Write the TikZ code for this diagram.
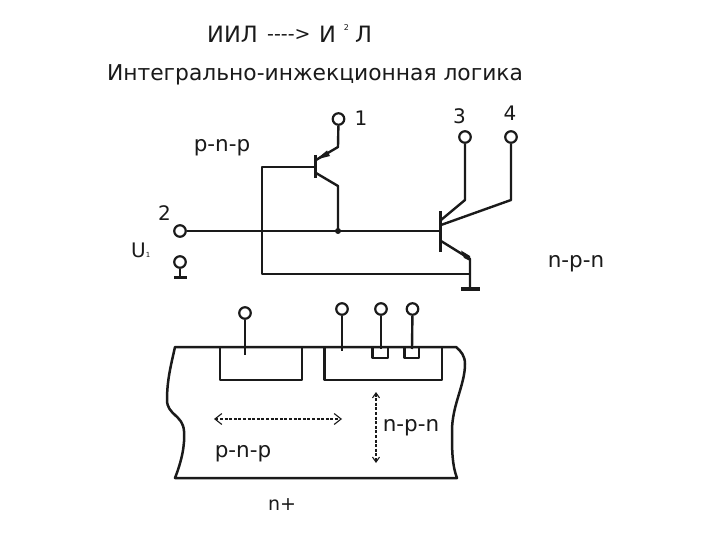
\documentclass[tikz,border=0pt]{standalone}
\usepackage{fontspec}
\setmainfont{DejaVu Sans}
\usetikzlibrary{arrows.meta}
\definecolor{ink}{HTML}{1A1A1A}
\tikzset{
  wire/.style={draw=ink,line width=2.4pt,line join=round},
  thin wire/.style={draw=ink,line width=2.1pt},
  bar/.style={draw=ink,line width=3pt},
  term/.style={circle,draw=ink,line width=2.2pt,fill=white,minimum size=11.5pt,inner sep=0pt},
  lab/.style={text=ink,inner sep=0pt,font=\fontsize{21.5}{24}\selectfont},
  num/.style={text=ink,inner sep=0pt,font=\fontsize{20}{22}\selectfont},
  dim/.style={draw=ink,line width=1.1pt,dash pattern=on 3pt off 1.6pt,{Straight Barb[length=7pt,width=11pt]}-{Straight Barb[length=7pt,width=11pt]}}
}
\begin{document}
\begin{tikzpicture}[x=1pt,y=-1pt]
\useasboundingbox (0,0) rectangle (720,540);
\fill[white] (0,0) rectangle (720,540);
% titles
\node[lab,anchor=west,font=\fontsize{22.5}{25}\selectfont] (t1) at (207,34) {ИИЛ};
\node[lab,anchor=west,font=\fontsize{19}{21}\selectfont] (t2) at (267,35) {{-}{-}{-}{-}>};
\node[lab,anchor=west,font=\fontsize{22.5}{25}\selectfont] (t3) at (319,34) {И};
\node[lab,font=\fontsize{8}{9}\selectfont] (t4) at (346.5,27.5) {2};
\node[lab,anchor=west,font=\fontsize{22.5}{25}\selectfont] (t5) at (355,34) {Л};
\node[lab,font=\fontsize{21.8}{24}\selectfont] (t6) at (315,74.5) {Интегрально-инжекционная логика};
% labels of the circuit
\node[lab] (l1) at (222,147.5) {p-n-p};
\node[num] (n1) at (361,118) {1};
\node[num] (n2) at (164.5,213) {2};
\node[num] (n3) at (459.5,116) {3};
\node[num] (n4) at (510,113) {4};
\node[lab,anchor=west,font=\fontsize{20}{22}\selectfont] (u) at (131,250) {U\raisebox{0pt}{\fontsize{7}{8}\selectfont 1}};
\node[lab] (l2) at (576,264) {n-p-n};
% terminals
\node[term] (T1) at (338.5,119) {};
\node[term] (T2) at (180,231) {};
\node[term] (T0) at (180,262) {};
\node[term] (T3) at (465,137) {};
\node[term] (T4) at (511,137) {};
% p-n-p transistor
\coordinate (pb1) at (315,155); \coordinate (pb2) at (315,178);
\coordinate (pb) at (315,167); \coordinate (pl) at (262,167);
\coordinate (pe) at (338,147); \coordinate (pei) at (316,160);
\coordinate (pci) at (316,173); \coordinate (pc) at (338,186);
\coordinate (J) at (338,231);
\draw[bar] (pb1) -- (pb2);
\draw[wire] (T1) -- (pe) -- (pei);
\fill[ink] (316,159.5) -- (327,150.5) -- (330,156) -- cycle;
\draw[wire] (pci) -- (pc) -- (J);
\fill[ink] (J) circle (3pt);
% n-p-n transistor
\coordinate (nb1) at (440.5,211); \coordinate (nb2) at (440.5,252);
\coordinate (nb) at (440.5,231);
\coordinate (c3) at (465,200); \coordinate (c3i) at (441,220);
\coordinate (c4) at (511,200); \coordinate (c4i) at (441,225);
\coordinate (ei) at (441,241); \coordinate (e) at (470,259);
\coordinate (gnd) at (470,289); \coordinate (gl) at (461,289); \coordinate (gr) at (479.5,289);
\coordinate (ej) at (470,274);
\draw[bar] (nb1) -- (nb2);
\draw[wire] (T3) -- (c3) -- (c3i);
\draw[wire] (T4) -- (c4) -- (c4i);
\draw[wire] (ei) -- (e) -- (gnd);
\fill[ink] (461,250.5) -- (470,256) -- (470,261) -- (464,258) -- cycle;
\draw[bar,line width=3.2pt] (gl) -- (gr);
% wiring
\draw[thin wire] (T2) -- (nb);
\draw[wire] (pb) -- (pl) -- (262,274) -- (ej);
\coordinate (g0) at (180,277); 
\draw[wire] (T0) -- (g0);
\draw[bar,line width=3.2pt] (174,277.5) -- (187,277.5);
% cross section
\draw[wire,line width=2.5pt] (175,347) -- (456,347)
  .. controls (461,351) and (465,356) .. (465,364)
  .. controls (465,385) and (452,405) .. (452,431)
  .. controls (452,450) and (452,465) .. (457,478)
  -- (175,478)
  .. controls (182,460) and (185,445) .. (184,431)
  .. controls (183,415) and (167,415) .. (167,400)
  .. controls (167,380) and (171,365) .. (175,347) -- cycle;
\draw[wire,line width=2.2pt] (220,347) -- (220,380) -- (302,380) -- (302,347);
\draw[wire,line width=2.2pt] (324.5,347) -- (324.5,380) -- (442,380) -- (442,347);
\draw[wire,line width=2.2pt] (372.5,347) -- (372.5,358) -- (388,358) -- (388,347);
\draw[wire,line width=2.2pt] (404.5,347) -- (404.5,358) -- (419,358) -- (419,347);
\node[term] (P1) at (245,313) {};
\node[term] (P2) at (342,309) {};
\node[term] (P3) at (381,309) {};
\node[term] (P4) at (412.5,309) {};
\coordinate (p1e) at (245,355); \coordinate (p2e) at (342,351);
\coordinate (p3e) at (381,349); \coordinate (p4e) at (412,349);
\draw[wire] (P1) -- (p1e);
\draw[wire] (P2) -- (p2e);
\draw[wire] (P3) -- (p3e);
\draw[wire] (P4) -- (p4e);
\coordinate (ah1) at (214,419); \coordinate (ah2) at (342,419);
\coordinate (av1) at (376,392); \coordinate (av2) at (376,463);
\draw[dim] (ah1) -- (ah2);
\draw[dim,{Straight Barb[length=5pt,width=7pt]}-{Straight Barb[length=5pt,width=7pt]}] (av1) -- (av2);
\node[lab] (l3) at (243,454) {p-n-p};
\node[lab] (l4) at (411,428) {n-p-n};
\node[lab,font=\fontsize{19}{21}\selectfont] (l5) at (282,505) {n+};
\end{tikzpicture}
\end{document}
